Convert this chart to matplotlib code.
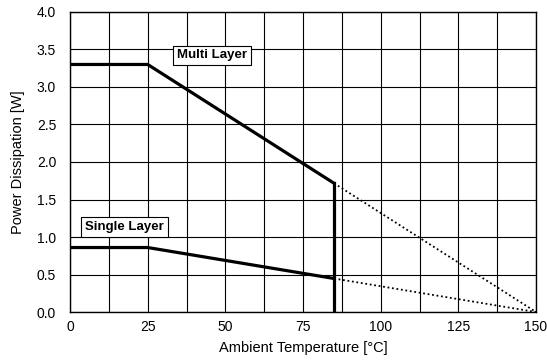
import matplotlib
matplotlib.use("Agg")
import matplotlib.pyplot as plt
import numpy as np

plt.rcParams["font.family"] = ["Liberation Sans", "DejaVu Sans"]

# solid derating curves (0..85 °C)
temp_solid = [0, 25, 85]
multi_solid = [3.3, 3.3, 1.716]
single_solid = [0.86, 0.86, 0.447]

# dotted extrapolation to 150 °C
temp_dot = [85, 150]
multi_dot = [1.716, 0.0]
single_dot = [0.447, 0.0]

# cut-off at 85 °C
cutoff_temp = 85
cutoff_top = 1.716

x_ticks = [0, 25, 50, 75, 100, 125, 150]
x_grid = np.arange(0, 150.1, 12.5)
y_ticks = np.arange(0, 4.01, 0.5)

fig = plt.figure(figsize=(5.47, 3.62), dpi=100)
ax = fig.add_axes([0.128, 0.138, 0.852, 0.829])

ax.set_xlim(0, 150)
ax.set_ylim(0, 4.0)
ax.set_xticks(x_ticks)
ax.set_xticks(x_grid, minor=True)
ax.set_yticks(y_ticks)
ax.set_yticklabels([f"{v:.1f}" for v in y_ticks])
ax.grid(True, which="both", color="black", linewidth=0.8)
ax.tick_params(which="both", length=0, labelsize=10)
ax.tick_params(axis="x", pad=6)
ax.tick_params(axis="y", pad=10)
for sp in ax.spines.values():
    sp.set_linewidth(1.0)

ax.plot(temp_solid, multi_solid, color="black", lw=2.3, solid_capstyle="butt", zorder=3)
ax.plot(temp_solid, single_solid, color="black", lw=2.3, solid_capstyle="butt", zorder=3)
ax.plot([cutoff_temp, cutoff_temp], [0, cutoff_top], color="black", lw=2.3, zorder=3)
ax.plot(temp_dot, multi_dot, color="black", lw=1.3, linestyle=(0, (1, 1.5)), zorder=3)
ax.plot(temp_dot, single_dot, color="black", lw=1.3, linestyle=(0, (1, 1.5)), zorder=3)

box = dict(boxstyle="square,pad=0.3", fc="white", ec="black", lw=0.8)
ax.text(45.6, 3.42, "Multi Layer", fontsize=9.5, fontweight="bold", ha="center", va="center", bbox=box, zorder=4)
ax.text(17.5, 1.133, "Single Layer", fontsize=9.5, fontweight="bold", ha="center", va="center", bbox=box, zorder=4)

ax.set_xlabel("Ambient Temperature [°C]", fontsize=10.5)
ax.set_ylabel("Power Dissipation [W]", fontsize=10.5)
ax.xaxis.set_label_coords(0.5, -0.095)
ax.yaxis.set_label_coords(-0.097, 0.5)

fig.savefig("out.png", dpi=100)
